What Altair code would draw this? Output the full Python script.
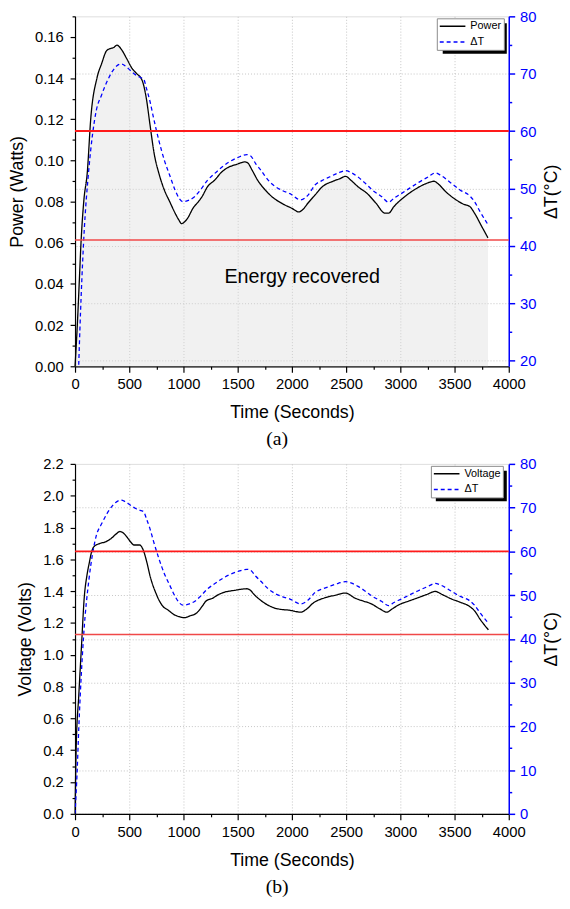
import altair as alt
import pandas as pd

# ---------------- data ----------------
time_power = [0, 21, 39, 55, 82, 112, 146, 202, 245, 294, 360, 387, 427, 476, 526, 576, 609, 625,
              658, 691, 731, 774, 824, 873, 923, 956, 983, 1006, 1039, 1088, 1138, 1171, 1221,
              1287, 1353, 1419, 1485, 1568, 1591, 1634, 1684, 1750, 1816, 1916, 1998, 2065,
              2098, 2147, 2213, 2280, 2379, 2445, 2495, 2544, 2610, 2693, 2776, 2858, 2892,
              2941, 3040, 3140, 3239, 3312, 3345, 3419, 3502, 3585, 3641, 3684, 3750, 3808]
power_w = [0.0, 0.020, 0.041, 0.060, 0.081, 0.0936, 0.121, 0.140, 0.147, 0.1535, 0.155, 0.156,
           0.154, 0.1495, 0.1447, 0.1418, 0.140, 0.138, 0.130, 0.1175, 0.103, 0.0936, 0.0856,
           0.080, 0.0744, 0.0712, 0.0693, 0.070, 0.072, 0.0768, 0.080, 0.0824, 0.0872, 0.0904,
           0.0944, 0.0968, 0.098, 0.0993, 0.0989, 0.0952, 0.0904, 0.0859, 0.0824, 0.0789,
           0.0768, 0.075, 0.076, 0.0792, 0.0832, 0.0872, 0.0899, 0.0912, 0.0923, 0.0904,
           0.0872, 0.084, 0.0792, 0.0744, 0.0744, 0.0776, 0.0824, 0.0861, 0.0888, 0.0899,
           0.0888, 0.0848, 0.0813, 0.0787, 0.0776, 0.0744, 0.068, 0.0624]

time_dt = [0, 20, 35, 56, 80, 129, 162, 195, 245, 294, 344, 394, 427, 460, 509, 559, 609, 632,
           658, 691, 724, 774, 824, 873, 923, 963, 996, 1055, 1105, 1155, 1221, 1287, 1353,
           1419, 1502, 1585, 1618, 1667, 1717, 1783, 1849, 1916, 1982, 2081, 2147, 2213, 2280,
           2346, 2428, 2495, 2544, 2610, 2677, 2743, 2826, 2892, 2941, 3008, 3090, 3173, 3256,
           3322, 3372, 3470, 3553, 3635, 3684, 3734, 3808]
delta_t = [0, 10, 19.8, 31, 41, 53.7, 59.5, 63.5, 66.3, 68.6, 70.4, 71.5, 71.7, 71.4, 70.6,
           69.8, 69.3, 69.1, 67.5, 65.2, 62.3, 58.3, 54.9, 52.3, 49.7, 48.2, 47.7, 48.0, 48.6,
           49.7, 51.4, 52.6, 53.7, 54.6, 55.4, 55.9, 55.7, 54.3, 53.1, 51.4, 50.3, 49.6, 49.1,
           48.0, 48.8, 50.6, 51.4, 52.0, 52.7, 53.1, 52.8, 52.0, 50.9, 49.7, 48.6, 47.6, 48.3,
           49.1, 50.1, 51.1, 52.0, 52.7, 52.3, 50.9, 49.7, 48.8, 47.7, 46.0, 43.7]

time_volt = [0, 10, 35, 60, 85, 110, 132, 150, 175, 231, 281, 331, 380, 413, 446, 479, 512, 545,
             595, 628, 661, 694, 744, 777, 810, 860, 909, 959, 1008, 1058, 1124, 1174, 1207,
             1273, 1322, 1372, 1471, 1587, 1610, 1653, 1703, 1769, 1835, 1901, 1967, 2083,
             2132, 2198, 2298, 2397, 2496, 2579, 2661, 2727, 2810, 2876, 2926, 2992, 3075,
             3157, 3240, 3322, 3388, 3471, 3553, 3636, 3686, 3736, 3812]
voltage_v = [0.0, 0.40, 0.75, 1.06, 1.36, 1.50, 1.58, 1.64, 1.68, 1.70, 1.71, 1.73, 1.76, 1.775,
             1.765, 1.74, 1.71, 1.69, 1.69, 1.66, 1.585, 1.49, 1.39, 1.34, 1.305, 1.28, 1.254,
             1.24, 1.233, 1.244, 1.264, 1.306, 1.337, 1.357, 1.378, 1.392, 1.405, 1.415, 1.409,
             1.378, 1.347, 1.316, 1.295, 1.285, 1.281, 1.268, 1.285, 1.326, 1.357, 1.374, 1.388,
             1.357, 1.337, 1.322, 1.289, 1.268, 1.289, 1.316, 1.337, 1.357, 1.378, 1.398, 1.378,
             1.351, 1.33, 1.305, 1.275, 1.223, 1.157]

thresholds_dt = [60, 41]
threshold_colors = ["#ff1a1a", "#f04848"]

x_ticks = list(range(0, 4001, 250))
power_ticks = [round(i * 0.01, 2) for i in range(0, 18)]
volt_ticks = [round(i * 0.1, 1) for i in range(0, 23)]

SANS = "Liberation Sans"
SERIF = "Liberation Serif"
BLUE = "#0000ff"

dt_df = pd.DataFrame({"t": time_dt, "v": delta_t, "series": "ΔT"})
thr_df = pd.DataFrame({"v": thresholds_dt, "c": threshold_colors})
dummy = pd.DataFrame({"a": [0]})


def make_panel(main_df, main_name, y_title, y_dom, y_vals, y_label_expr, y_tick_test, dt_dom,
               dt_vals, caption, leg_xy, shadow, with_area):
    series_scale = alt.Scale(domain=[main_name, "ΔT"], range=["#000000", BLUE])
    dash_scale = alt.Scale(domain=[main_name, "ΔT"], range=[[1, 0], [4, 3]])
    x_enc = alt.X(
        "t:Q",
        scale=alt.Scale(domain=[0, 4000], nice=False, zero=False),
        axis=alt.Axis(
            values=x_ticks, format="d", title="Time (Seconds)",
            labelExpr="datum.value % 500 === 0 ? datum.label : ''",
            tickSize={"condition": {"test": "datum.value % 500 === 0", "value": 6}, "value": 3},
            grid=True,
            gridOpacity={"condition": {"test": "datum.value % 500 === 0 && datum.value > 0 && datum.value < 4000", "value": 1}, "value": 0},
            gridDash=[1, 2], gridColor="#c4c4c4", gridWidth=1,
            domainColor="#000", domainWidth=1.2, tickColor="#000", tickWidth=1.2,
            labelFontSize=15, titleFontSize=18, titleFontWeight="normal",
            labelPadding=5, titlePadding=12, labelFlush=False,
        ),
    )
    y_left = alt.Y(
        "v:Q",
        scale=alt.Scale(domain=y_dom, nice=False, zero=False),
        axis=alt.Axis(
            values=y_vals, title=y_title, labelExpr=y_label_expr,
            tickSize={"condition": {"test": y_tick_test, "value": 5}, "value": 3},
            grid=False, domainColor="#000", domainWidth=1.2, tickColor="#000", tickWidth=1.2,
            labelFontSize=15, titleFontSize=18, titleFontWeight="normal",
            labelPadding=7, titlePadding=8, labelFlush=False,
        ),
    )
    y_right = alt.Y(
        "v:Q",
        scale=alt.Scale(domain=dt_dom, nice=False, zero=False),
        axis=alt.Axis(
            orient="right", values=dt_vals, title="ΔT(°C)", titleAngle=270,
            titleBaseline="top",
            labelExpr="datum.value % 10 === 0 ? datum.label : ''",
            tickSize={"condition": {"test": "datum.value % 10 === 0", "value": 6}, "value": 3},
            grid=True,
            gridOpacity={"condition": {"test": "datum.value % 10 === 0 && datum.value < 80", "value": 1}, "value": 0},
            gridDash=[1, 2], gridColor="#c4c4c4",
            domainColor=BLUE, domainWidth=1.5, tickColor=BLUE, tickWidth=1.5,
            labelColor=BLUE, labelFontSize=15, titleFontSize=18, titleColor="#000",
            titleFontWeight="normal", labelPadding=5, titlePadding=7, labelFlush=False,
        ),
    )
    leg = alt.Legend(
        title=None, orient="none", legendX=leg_xy[0], legendY=leg_xy[1],
        fillColor="#ffffff", strokeColor="#8a8a8a", padding=2, rowPadding=4,
        symbolType="stroke", symbolSize=676, symbolStrokeWidth=1.4, labelFontSize=11,
        labelOffset=4, labelFont=SANS, labelColor="#000", clipHeight=12,
    )

    left_layers = []
    if with_area:
        left_layers.append(
            alt.Chart(main_df).mark_area(color="#dcdcdc", opacity=0.4, interpolate="monotone")
            .encode(x=x_enc, y=y_left)
        )
    left_layers.append(
        alt.Chart(main_df).mark_line(strokeWidth=1.3, interpolate="monotone").encode(
            x=x_enc, y=y_left,
            color=alt.Color("series:N", scale=series_scale, legend=leg),
            strokeDash=alt.StrokeDash("series:N", scale=dash_scale, legend=leg),
        )
    )
    if with_area:
        txt_df = pd.DataFrame({"t": [2095], "v": [0.0434], "label": ["Energy recovered"]})
        left_layers.append(
            alt.Chart(txt_df).mark_text(fontSize=20, font=SANS, color="#000", align="center",
                                        baseline="middle")
            .encode(x=x_enc, y=y_left, text="label:N")
        )
    left = alt.layer(*left_layers)

    right_layers = [
        alt.Chart(dt_df).mark_line(strokeWidth=1.3, interpolate="monotone", clip=True).encode(
            x=x_enc, y=y_right,
            color=alt.Color("series:N", scale=series_scale, legend=leg),
            strokeDash=alt.StrokeDash("series:N", scale=dash_scale, legend=leg),
        ),
        alt.Chart(thr_df).transform_filter("datum.v === 60").mark_rule(color="#ff1a1a", strokeWidth=2)
        .encode(y=y_right),
        alt.Chart(thr_df).transform_filter("datum.v === 41").mark_rule(color="#f04848", strokeWidth=1.6)
        .encode(y=y_right),
    ]
    right = alt.layer(*right_layers)

    shadow_layer = alt.Chart(dummy).mark_rect(color="#000").encode(
        x=alt.value(shadow[0]), x2=alt.value(shadow[1]),
        y=alt.value(shadow[2]), y2=alt.value(shadow[3]),
    )

    return (
        alt.layer(left, right, shadow_layer)
        .resolve_scale(y="independent")
        .properties(
            width=440, height=355,
            title=alt.TitleParams(caption, orient="bottom", font=SERIF, fontSize=20,
                                  fontWeight="normal", color="#000", anchor="middle",
                                  frame="group", offset=8, dx=-15),
        )
    )


power_df = pd.DataFrame({"t": time_power, "v": power_w, "series": "Power"})
volt_df = pd.DataFrame({"t": time_volt, "v": voltage_v, "series": "Voltage"})

panel_a = make_panel(
    power_df, "Power", "Power (Watts)", [0, 0.17], power_ticks,
    "round(datum.value * 100) % 2 === 0 ? format(datum.value, '.2f') : ''",
    "round(datum.value * 100) % 2 === 0",
    [19, 80], list(range(20, 81, 5)), "(a)", (367, 2), (373, 438, 7, 38), True,
)
panel_b = make_panel(
    volt_df, "Voltage", "Voltage (Volts)", [0, 2.2], volt_ticks,
    "round(datum.value * 10) % 2 === 0 ? format(datum.value, '.1f') : ''",
    "round(datum.value * 10) % 2 === 0",
    [0, 80], list(range(0, 81, 5)), "(b)", (361, 2), (366, 438, 7, 38), False,
)

chart = (
    alt.vconcat(panel_a, panel_b, spacing=6)
    .resolve_scale(color="independent", strokeDash="independent")
    .properties(padding={"left": 0, "top": -6, "right": 0, "bottom": 0})
    .configure_view(stroke="#d4d4d4", strokeWidth=1)
    .configure_axis(labelFont=SANS, titleFont=SANS, titleFontWeight="normal", labelColor="#000",
                    titleColor="#000")
    .configure_text(font=SANS)
    .configure(background="#ffffff")
)

chart.save("out.html", embed_options={"renderer": "svg", "actions": False})
